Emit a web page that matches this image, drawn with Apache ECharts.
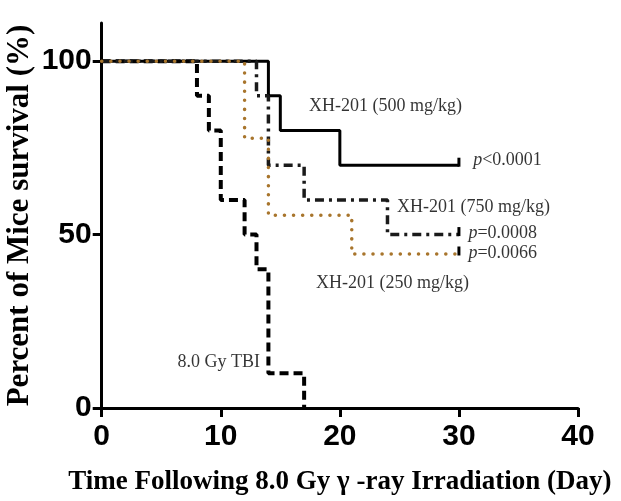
<!DOCTYPE html>
<html>
<head>
<meta charset="utf-8">
<script src="https://cdn.jsdelivr.net/npm/echarts@6/dist/echarts.min.js"></script>
<style>
  html, body { margin: 0; padding: 0; background: #fff; }
  #chart { width: 621px; height: 501px; }
</style>
</head>
<body>
<div id="chart"></div>
<script>
// Kaplan-Meier steps: [day, survival %]
const tbi = [[0, 100], [8, 90], [9, 80], [10, 60], [12, 50], [13, 40], [14, 10], [17, 0]]
const dose500 = [[0, 100], [14, 90], [15, 80], [20, 70], [30, 70]]
const dose750 = [[0, 100], [13, 90], [14, 70], [17, 60], [24, 50], [30, 50]]
const dose250 = [[0, 100], [12, 77.8], [14, 55.6], [21, 44.4], [30, 44.4]]

const xTicks = [0, 10, 20, 30, 40]
const yTicks = [0, 50, 100]

// annotations placed in data coordinates
const noteText = ['XH-201 (500 mg/kg)', '{i|p}<0.0001', 'XH-201 (750 mg/kg)', '{i|p}=0.0008', '{i|p}=0.0066', 'XH-201 (250 mg/kg)', '8.0 Gy TBI']
const noteX = [17.4, 31.2, 24.8, 30.8, 30.8, 18.0, 13.3]
const noteY = [86.9, 71.5, 58.0, 50.4, 44.6, 36.0, 13.3]
const noteSide = ['right', 'right', 'right', 'right', 'right', 'right', 'left']

const serif = '"Liberation Serif", "Times New Roman", serif'
const narrow = '"Liberation Sans Narrow", "Liberation Sans", Arial, sans-serif'

function withCensor(data) {
  // last point gets a small vertical censor tick
  return data.map((d, i) => i === data.length - 1 && d[1] > 0
    ? { value: d, symbol: 'rect', symbolSize: [3, 9], symbolOffset: [0, -3], itemStyle: { color: '#000' } }
    : { value: d, symbol: 'none' })
}

function kmSeries(name, data, lineStyle) {
  return {
    name,
    type: 'line',
    step: 'end',
    data: withCensor(data),
    showSymbol: true,
    lineStyle,
    itemStyle: { color: lineStyle.color },
    emphasis: { disabled: true },
    animation: false,
  }
}

const chart = echarts.init(document.getElementById('chart'))
chart.setOption({
  animation: false,
  grid: { left: 101.7, right: 43, top: 23, bottom: 93, containLabel: false, outerBoundsMode: 'none' },
  xAxis: {
    type: 'value',
    min: 0,
    max: 40,
    interval: 10,
    name: 'Time Following 8.0 Gy γ -ray Irradiation (Day)',
    nameLocation: 'middle',
    nameGap: 61,
    nameMoveOverlap: false,
    nameTextStyle: { fontFamily: serif, fontWeight: 'bold', fontSize: 27, color: '#000' },
    axisLine: { show: true, lineStyle: { color: '#000', width: 3 } },
    axisTick: { show: true, length: 9, lineStyle: { color: '#000', width: 3 }, customValues: xTicks },
    axisLabel: { fontFamily: narrow, fontWeight: 'bold', fontSize: 30, color: '#000', margin: 14, customValues: xTicks },
    splitLine: { show: false },
  },
  yAxis: {
    type: 'value',
    min: 0,
    max: 111,
    interval: 50,
    name: 'Percent of Mice survival (%)',
    nameLocation: 'middle',
    nameGap: 66,
    nameMoveOverlap: false,
    nameTextStyle: { fontFamily: serif, fontWeight: 'bold', fontSize: 31, color: '#000' },
    axisLine: { show: true, lineStyle: { color: '#000', width: 3 } },
    axisTick: { show: true, length: 9, lineStyle: { color: '#000', width: 3 }, customValues: yTicks },
    axisLabel: { fontFamily: narrow, fontWeight: 'bold', fontSize: 30, color: '#000', margin: 10, customValues: yTicks },
    splitLine: { show: false },
  },
  series: [
    kmSeries('8.0 Gy TBI', tbi, { color: '#000', width: 4, type: [9, 5] }),
    kmSeries('XH-201 (500 mg/kg)', dose500, { color: '#000', width: 3, type: 'solid' }),
    kmSeries('XH-201 (750 mg/kg)', dose750, { color: '#1a1a1a', width: 3.5, type: [9, 5, 3, 5] }),
    kmSeries('XH-201 (250 mg/kg)', dose250, { color: '#a8752c', width: 3.5, type: [0.1, 9], cap: 'round' }),
    {
      type: 'scatter',
      symbolSize: 0,
      silent: true,
      data: noteX.map((x, i) => ({
        value: [x, noteY[i]],
        label: { position: noteSide[i] },
      })),
      label: {
        show: true,
        distance: 0,
        fontFamily: serif,
        fontSize: 18,
        color: '#000',
        formatter: p => noteText[p.dataIndex],
        rich: { i: { fontFamily: serif, fontSize: 18, fontStyle: 'italic', color: '#000' } },
      },
    },
  ],
})
</script>
</body>
</html>
